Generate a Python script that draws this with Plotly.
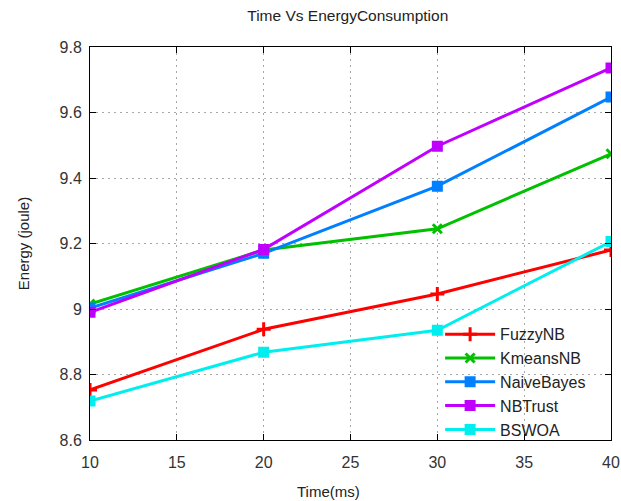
import plotly.graph_objects as go

time_ms = [10, 20, 30, 40]
fuzzy_nb = [8.753, 8.938, 9.046, 9.180]
kmeans_nb = [9.015, 9.180, 9.245, 9.474]
naive_bayes = [9.003, 9.170, 9.375, 9.647]
nb_trust = [8.990, 9.182, 9.497, 9.736]
bswoa = [8.719, 8.868, 8.935, 9.206]

series = [
    ("FuzzyNB", fuzzy_nb, "#ff0000", "cross-thin", 10),
    ("KmeansNB", kmeans_nb, "#00c000", "x-thin", 9),
    ("NaiveBayes", naive_bayes, "#0080ff", "square", 8),
    ("NBTrust", nb_trust, "#c000ff", "square", 8),
    ("BSWOA", bswoa, "#00eeee", "square", 8),
]

FONT = "Liberation Sans, Arial, sans-serif"

fig = go.Figure()
for name, vals, color, sym, size in series:
    fig.add_trace(go.Scatter(
        x=time_ms, y=vals, name=name, mode="lines+markers",
        line=dict(color=color, width=3),
        marker=dict(symbol=sym, size=size, color=color,
                    line=dict(color=color, width=3)),
    ))

axis_common = dict(
    showline=True, linecolor="#000000", linewidth=1, mirror="ticks",
    ticks="inside", ticklen=6, tickcolor="#000000",
    showgrid=True, gridcolor="#a8a8a8", griddash="2px,4px", gridwidth=1,
    zeroline=False, automargin=False,
    tickfont=dict(family=FONT, size=16, color="#333333"),
)

fig.update_layout(
    width=621, height=501,
    margin=dict(l=90, r=10, t=47, b=61),
    paper_bgcolor="white", plot_bgcolor="white",
    title=dict(text="Time Vs EnergyConsumption", x=0.56, xanchor="center",
               y=0.968, yanchor="middle",
               font=dict(family=FONT, size=15.5, color="#222222")),
    xaxis=dict(range=[10, 40], tickvals=[10, 15, 20, 25, 30, 35, 40],
               ticklabelstandoff=8,
               **axis_common),
    yaxis=dict(range=[8.6, 9.8], tickvals=[8.6, 8.8, 9.0, 9.2, 9.4, 9.6, 9.8],
               ticktext=["8.6", "8.8", "9", "9.2", "9.4", "9.6", "9.8"],
               ticklabelstandoff=4,
               title=dict(text="Energy (joule)", standoff=26,
                          font=dict(family=FONT, size=15, color="#222222")),
               **axis_common),
    legend=dict(x=0.672, y=-0.016, xanchor="left", yanchor="bottom",
                bgcolor="rgba(255,255,255,0)", itemwidth=50, tracegroupgap=0,
                font=dict(family=FONT, size=16, color="#222222")),
    showlegend=True,
    annotations=[dict(text="Time(ms)", xref="paper", yref="paper",
                      x=0.457, y=-0.13, xanchor="center", yanchor="middle",
                      showarrow=False,
                      font=dict(family=FONT, size=15, color="#222222"))],
)

fig.write_html("out.html",
               config={"displayModeBar": False},
               post_script="document.body.style.margin='0';document.body.style.overflow='hidden';")
